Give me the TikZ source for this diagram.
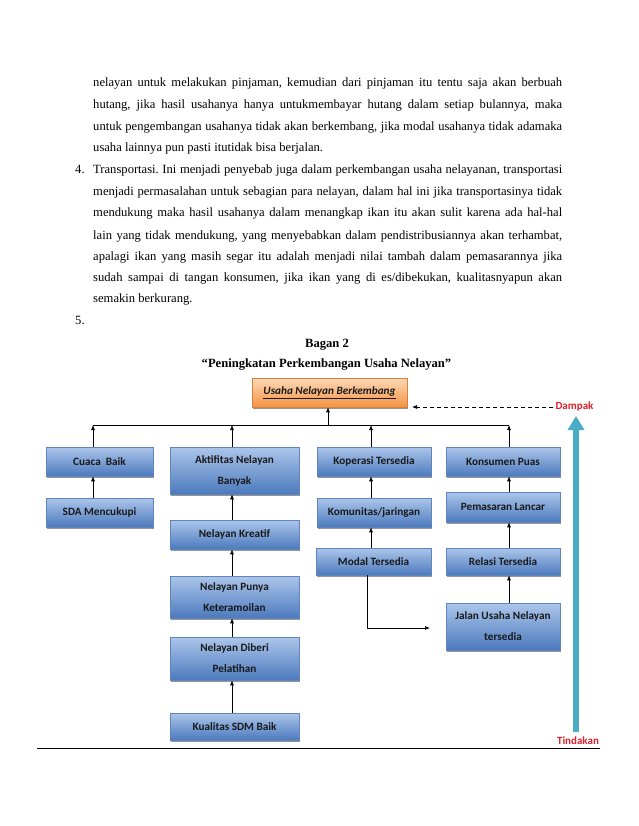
\documentclass[tikz,border=0pt]{standalone}
\usepackage{fontspec}
\setmainfont{Liberation Serif}
\newfontfamily\calibri{Carlito}
\usetikzlibrary{shadows,arrows.meta}
\frenchspacing

\definecolor{biruatas}{RGB}{172,198,234}
\definecolor{birubawah}{RGB}{76,122,190}
\definecolor{garisbiru}{RGB}{96,132,188}
\definecolor{oranyeatas}{RGB}{252,216,182}
\definecolor{oranyebawah}{RGB}{245,148,68}
\definecolor{garisoranye}{RGB}{214,130,60}
\definecolor{merah}{RGB}{222,32,42}
\definecolor{tosca}{RGB}{75,172,198}

\tikzset{
  kotak/.style={draw=garisbiru, line width=0.5pt, top color=biruatas, bottom color=birubawah,
    minimum height=29, inner sep=2pt, align=center, text=black!90,
    font=\calibri\bfseries\fontsize{11.2}{21}\selectfont,
    drop shadow={shadow xshift=1.2pt, shadow yshift=-1.5pt, fill=black!75, opacity=0.55}},
  kotakatas/.style={kotak, draw=garisoranye, top color=oranyeatas, bottom color=oranyebawah},
  panah/.style={-{Latex[length=5pt,width=4pt]}, line width=0.7pt},
  baris/.style={anchor=base west, inner sep=0pt, font=\fontsize{12.6}{14}\selectfont},
  judul/.style={anchor=base, inner sep=0pt, font=\bfseries\fontsize{12.6}{14}\selectfont},
  merahtulis/.style={text=merah, inner sep=2pt, font=\calibri\bfseries\fontsize{11}{13}\selectfont},
}

\begin{document}
\begin{tikzpicture}[x=1pt, y=-1pt]
  % page size
  \useasboundingbox (0,0) rectangle (638,826);

  % text above the chart
  \node[baris] (t1) at (93,87) {\makebox[469pt][s]{nelayan untuk melakukan pinjaman, kemudian dari pinjaman itu tentu saja akan berbuah}};
  \node[baris] (t2) at (93,109) {\makebox[469pt][s]{hutang, jika hasil usahanya hanya untukmembayar hutang dalam setiap bulannya, maka}};
  \node[baris] (t3) at (93,131) {\makebox[469pt][s]{untuk pengembangan usahanya tidak akan berkembang, jika modal usahanya tidak adamaka}};
  \node[baris] (t4) at (93,152) {usaha lainnya pun pasti itutidak bisa berjalan.};
  \node[baris] (n4) at (75,174) {4.};
  \node[baris] (t5) at (93,174) {\makebox[469pt][s]{Transportasi. Ini menjadi penyebab juga dalam perkembangan usaha nelayanan, transportasi}};
  \node[baris] (t6) at (93,196) {\makebox[469pt][s]{menjadi permasalahan untuk sebagian para nelayan, dalam hal ini jika transportasinya tidak}};
  \node[baris] (t7) at (93,217) {\makebox[469pt][s]{mendukung maka hasil usahanya dalam menangkap ikan itu akan sulit karena ada hal-hal}};
  \node[baris] (t8) at (93,239) {\makebox[469pt][s]{lain yang tidak mendukung, yang menyebabkan dalam pendistribusiannya akan terhambat,}};
  \node[baris] (t9) at (93,260) {\makebox[469pt][s]{apalagi ikan yang masih segar itu adalah menjadi nilai tambah dalam pemasarannya jika}};
  \node[baris] (t10) at (93,281) {\makebox[469pt][s]{sudah sampai di tangan konsumen, jika ikan yang di es/dibekukan, kualitasnyapun akan}};
  \node[baris] (t11) at (93,302) {semakin berkurang.};
  \node[baris] (n5) at (75,324) {5.};

  % title
  \node[judul] (bagan) at (327,347) {Bagan 2};
  \node[judul] (namabagan) at (326.5,367) {“Peningkatan Perkembangan Usaha Nelayan”};

  % boxes
  \node[kotakatas, minimum width=155] (top) at (329.5,392.5) {\underline{\textit{Usaha Nelayan Berkembang}}};

  \node[kotak, minimum width=107] (cuaca) at (99.5,461.5) {Cuaca\ \ Baik};
  \node[kotak, minimum width=107] (sda) at (99.5,512.5) {SDA Mencukupi};

  \node[kotak, minimum width=129, minimum height=47] (aktif) at (234.5,470.5) {Aktifitas Nelayan\\Banyak};
  \node[kotak, minimum width=129] (kreatif) at (234.5,534.5) {Nelayan Kreatif};
  \node[kotak, minimum width=129, minimum height=42] (punya) at (234.5,597) {Nelayan Punya\\Keteramoilan};
  \node[kotak, minimum width=129, minimum height=43] (diberi) at (234.5,658.5) {Nelayan Diberi\\Pelatihan};
  \node[kotak, minimum width=129, minimum height=27] (kualitas) at (234.5,726.5) {Kualitas SDM Baik};

  \node[kotak, minimum width=114] (koperasi) at (374,461.5) {Koperasi Tersedia};
  \node[kotak, minimum width=114] (komunitas) at (374,512.5) {Komunitas/jaringan};
  \node[kotak, minimum width=115, minimum height=27] (modal) at (373.5,561.5) {Modal Tersedia};

  \node[kotak, minimum width=114] (konsumen) at (503,461.5) {Konsumen Puas};
  \node[kotak, minimum width=114, minimum height=30] (pemasaran) at (503,507) {Pemasaran Lancar};
  \node[kotak, minimum width=114, minimum height=27] (relasi) at (503,561.5) {Relasi Tersedia};
  \node[kotak, minimum width=114, minimum height=47] (jalan) at (503,626.5) {Jalan Usaha Nelayan\\tersedia};

  % bus line under the top box
  \coordinate (b1) at (93,425);
  \coordinate (b2) at (232,425);
  \coordinate (b3) at (371,425);
  \coordinate (b4) at (509,425);
  \coordinate (bt) at (328,425);
  \draw[line width=0.7pt] (b1) -- (b4);
  \draw[panah] (bt) -- (top.south -| bt);
  \foreach \n/\k in {cuaca/b1, aktif/b2, koperasi/b3, konsumen/b4}
    \draw[panah] (\n.north -| \k) -- (\k);

  % arrows inside the columns
  \draw[panah] (sda.north -| b1) -- (cuaca.south -| b1);
  \draw[panah] (kreatif.north -| b2) -- (aktif.south -| b2);
  \draw[panah] (punya.north -| b2) -- (kreatif.south -| b2);
  \draw[panah] (diberi.north -| b2) -- (punya.south -| b2);
  \draw[panah] (kualitas.north -| b2) -- (diberi.south -| b2);
  \draw[panah] (komunitas.north -| b3) -- (koperasi.south -| b3);
  \draw[panah] (modal.north -| b3) -- (komunitas.south -| b3);
  \draw[panah] (pemasaran.north -| b4) -- (konsumen.south -| b4);
  \draw[panah] (relasi.north -| b4) -- (pemasaran.south -| b4);
  \draw[panah] (jalan.north -| b4) -- (relasi.south -| b4);

  % elbow from modal towards jalan
  \coordinate (belok) at (367,628);
  \coordinate (ujung) at (430,628);
  \draw[panah] (modal.south -| belok) -- (belok) -- (ujung);

  % dampak and tindakan
  \node[merahtulis] (dampak) at (574.5,407) {Dampak};
  \node[merahtulis] (tindakan) at (578,741) {Tindakan};
  \coordinate (kedampak) at (412,407);
  \draw[panah, dash pattern=on 4pt off 3pt] (dampak.west) -- (kedampak);
  \coordinate (panahbawah) at (576,732);
  \coordinate (panahatas) at (576,416);
  \draw[tosca, line width=6pt, -{Triangle[width=16pt,length=14pt]}] (panahbawah) -- (panahatas);

  % footer rule
  \draw[line width=0.8pt] (37,748) -- (600,748);
\end{tikzpicture}
\end{document}
